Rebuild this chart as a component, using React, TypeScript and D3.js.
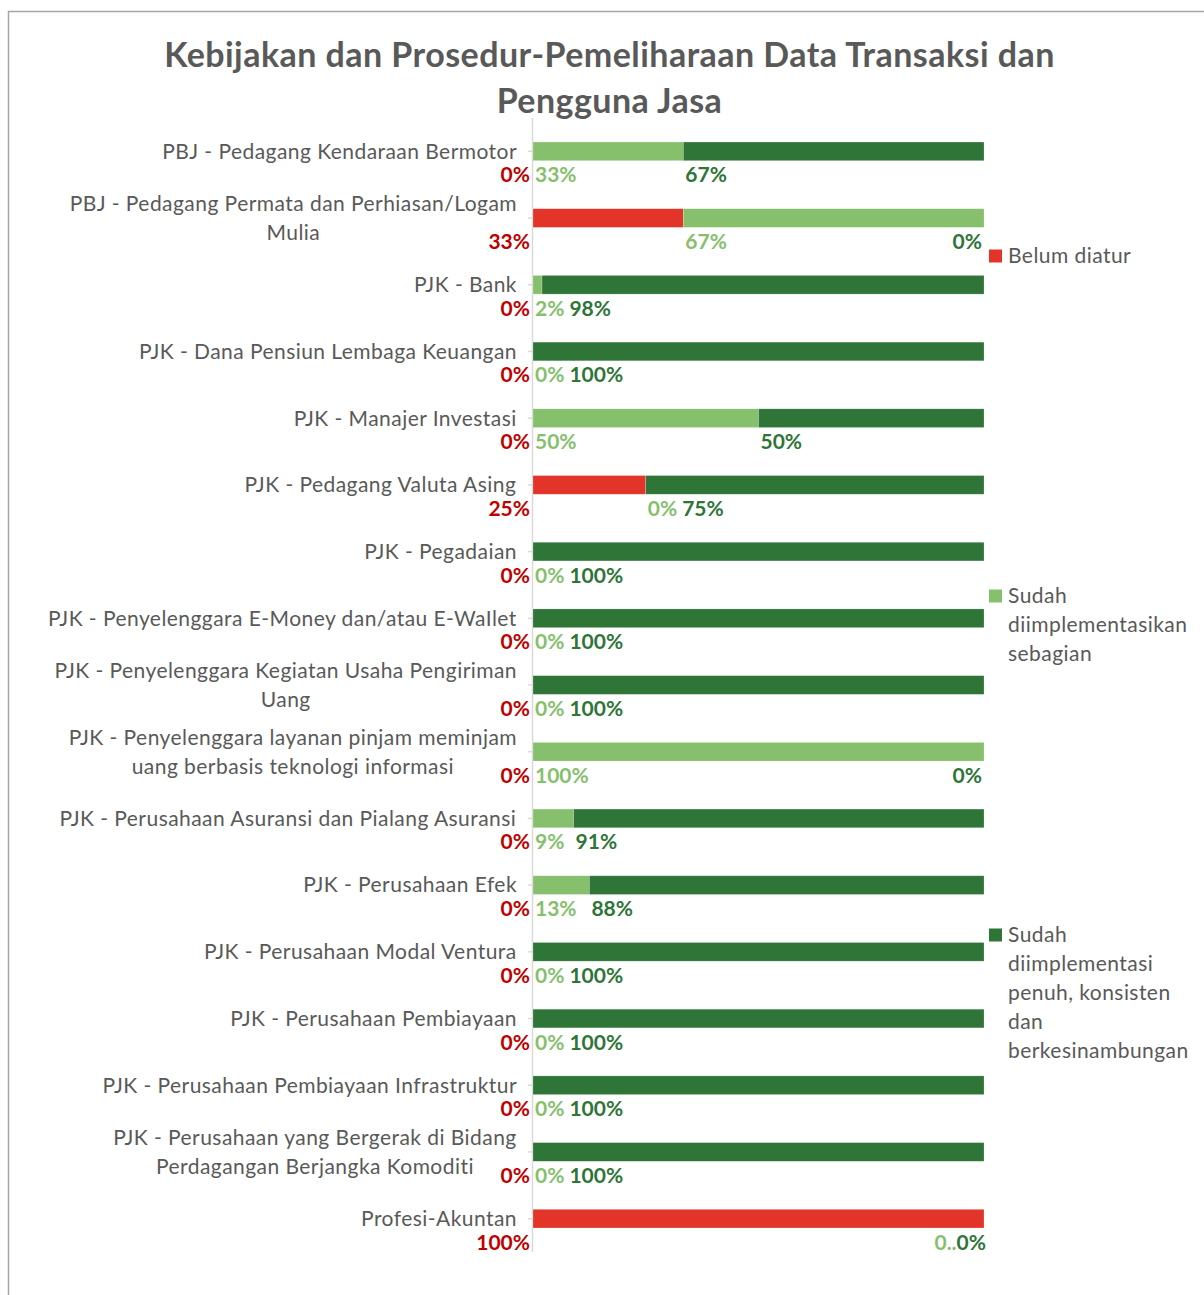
import React from "react";
import * as d3 from "d3";

const title = ["Kebijakan dan Prosedur-Pemeliharaan Data Transaksi dan", "Pengguna Jasa"];

const categories = [
  "PBJ - Pedagang Kendaraan Bermotor",
  "PBJ - Pedagang Permata dan Perhiasan/Logam Mulia",
  "PJK - Bank",
  "PJK - Dana Pensiun Lembaga Keuangan",
  "PJK - Manajer Investasi",
  "PJK - Pedagang Valuta Asing",
  "PJK - Pegadaian",
  "PJK - Penyelenggara E-Money dan/atau E-WaIlet",
  "PJK - Penyelenggara Kegiatan Usaha Pengiriman Uang",
  "PJK - Penyelenggara layanan pinjam meminjam uang berbasis teknologi informasi",
  "PJK - Perusahaan Asuransi dan Pialang Asuransi",
  "PJK - Perusahaan Efek",
  "PJK - Perusahaan Modal Ventura",
  "PJK - Perusahaan Pembiayaan",
  "PJK - Perusahaan Pembiayaan Infrastruktur",
  "PJK - Perusahaan yang Bergerak di Bidang Perdagangan Berjangka Komoditi",
  "Profesi-Akuntan",
];

const seriesNames = [
  "Belum diatur",
  "Sudah diimplementasikan sebagian",
  "Sudah diimplementasi penuh, konsisten dan berkesinambungan",
];

const belumDiatur = [0, 33.33, 0, 0, 0, 25, 0, 0, 0, 0, 0, 0, 0, 0, 0, 0, 100];
const sebagian = [33.33, 66.67, 2, 0, 50, 0, 0, 0, 0, 100, 9, 12.5, 0, 0, 0, 0, 0];
const penuh = [66.67, 0, 98, 100, 50, 75, 100, 100, 100, 0, 91, 87.5, 100, 100, 100, 100, 0];

const barColors = ["#E3342A", "#86C06D", "#2E7537"];
const labelColors = ["#C00000", "#86C06D", "#2E7537"];
const TEXT = "#595959";
const FONT = "Lato, 'Liberation Sans', sans-serif";

const W = 1204;
const H = 1295;
const catSize = 21;
const catLS = 0.45;
const labSize = 21;
const titleSize = 34;
const titleLS = 0.45;

let _ctx: CanvasRenderingContext2D | null = null;
function measure(t: string, font: string, ls = 0) {
  if (!_ctx) _ctx = document.createElement("canvas").getContext("2d");
  if (!_ctx) return t.length * 10;
  _ctx.font = font;
  return _ctx.measureText(t).width + ls * t.length;
}

function wrap(text: string, maxW: number, font: string, ls = 0) {
  const words = text.split(" ");
  const lines: string[] = [];
  let cur = "";
  for (const w of words) {
    const test = cur ? cur + " " + w : w;
    if (cur && measure(test, font, ls) > maxW) {
      lines.push(cur);
      cur = w;
    } else cur = test;
  }
  if (cur) lines.push(cur);
  return lines;
}

export default function App() {
  const x = d3.scaleLinear().domain([0, 100]).range([533, 984]);
  const y = d3
    .scaleBand<string>()
    .domain(categories)
    .range([118, 1252])
    .paddingInner(0.72)
    .paddingOuter(0.36);

  const rows = categories.map((c, i) => ({ cat: c, vals: [belumDiatur[i], sebagian[i], penuh[i]] }));
  const stack = d3
    .stack<any>()
    .keys(["0", "1", "2"])
    .value((d: any, k: string) => d.vals[+k]);
  const stacked = stack(rows);

  const catFont = `${catSize}px Lato`;
  const labFont = `bold ${labSize}px Lato`;
  const labelAxisX = 517;

  return (
    <svg width={W} height={H} style={{ position: "absolute", left: 0, top: 0 }} fontFamily={FONT}>
      <rect x={8.5} y={11.5} width={W + 20} height={H + 20} fill="#fff" stroke="#A6A6A6" strokeWidth={1.5} />
      {title.map((t, i) => (
        <text
          key={i}
          x={609.5}
          y={55 + i * 46}
          dy="0.35em"
          textAnchor="middle"
          fontWeight="bold"
          fontSize={titleSize}
          letterSpacing={titleLS}
          fill={TEXT}
        >
          {t}
        </text>
      ))}

      {/* axis */}
      <line x1={x(0) - 0.5} x2={x(0) - 0.5} y1={118} y2={1252} stroke="#D9D9D9" strokeWidth={1.5} />
      {categories.map((c) => {
        const cy = (y(c) as number) + y.bandwidth() / 2;
        return <line key={c} x1={528} x2={532} y1={cy} y2={cy} stroke="#D9D9D9" strokeWidth={1.5} />;
      })}

      {/* category labels */}
      {categories.map((c) => {
        const cy = (y(c) as number) + y.bandwidth() / 2;
        const lines = wrap(c, 480, catFont, catLS);
        const bw = Math.max(...lines.map((l) => measure(l, catFont, catLS)));
        const cx = labelAxisX - bw / 2;
        return (
          <g key={c}>
            {lines.map((l, j) => (
              <text
                key={j}
                x={cx}
                y={cy + (j - (lines.length - 1) / 2) * 29}
                dy="0.35em"
                textAnchor="middle"
                fontSize={catSize}
                letterSpacing={catLS}
                fill={TEXT}
              >
                {l}
              </text>
            ))}
          </g>
        );
      })}

      {/* bars */}
      {stacked.map((s, k) => (
        <g key={k} fill={barColors[k]}>
          {s.map((d: any, i: number) =>
            d[1] - d[0] > 0 ? (
              <rect
                key={i}
                x={x(d[0])}
                y={y(categories[i]) as number}
                width={x(d[1]) - x(d[0])}
                height={y.bandwidth()}
                stroke="#ffffff"
                strokeOpacity={0.35}
                strokeWidth={0.6}
              />
            ) : null
          )}
        </g>
      ))}

      {/* data labels */}
      {rows.map((r, i) => {
        const cy = (y(r.cat) as number) + y.bandwidth() / 2;
        const by = cy + 31;
        const [a, b, c] = r.vals;
        const ta = Math.round(a) + "%";
        const tb = Math.round(b) + "%";
        const tc = Math.round(c) + "%";
        const out: any[] = [];
        out.push(
          <text key="a" x={x(0) - 3} y={by} textAnchor="end" fontWeight="bold" fontSize={labSize} fill={labelColors[0]}>
            {ta}
          </text>
        );
        if (b === 0 && c === 0) {
          const endX = x(100) + 2;
          const wc = measure(tc, labFont);
          out.push(
            <text key="c" x={endX} y={by} textAnchor="end" fontWeight="bold" fontSize={labSize} fill={labelColors[2]}>
              {tc}
            </text>
          );
          out.push(
            <text key="b" x={endX - wc} y={by} textAnchor="end" fontWeight="bold" fontSize={labSize} fill={labelColors[1]}>
              {"0.."}
            </text>
          );
          return <g key={i}>{out}</g>;
        }
        const bx = x(a) + 2;
        const bEnd = bx + measure(tb, labFont);
        out.push(
          <text key="b" x={bx} y={by} fontWeight="bold" fontSize={labSize} fill={labelColors[1]}>
            {tb}
          </text>
        );
        if (c === 0) {
          out.push(
            <text key="c" x={x(100) - 2} y={by} textAnchor="end" fontWeight="bold" fontSize={labSize} fill={labelColors[2]}>
              {tc}
            </text>
          );
        } else {
          const cx = Math.max(x(a + b) + 2, bEnd + 5);
          out.push(
            <text key="c" x={cx} y={by} fontWeight="bold" fontSize={labSize} fill={labelColors[2]}>
              {tc}
            </text>
          );
        }
        return <g key={i}>{out}</g>;
      })}

      {/* legend */}
      {seriesNames.map((n, k) => {
        const tops = [256, 596, 935];
        const lines = wrap(n, 195, catFont, catLS);
        const ty = tops[k];
        return (
          <g key={n}>
            <rect x={989} y={ty - 6.5} width={13} height={13} fill={barColors[k]} />
            {lines.map((l, j) => (
              <text key={j} x={1008} y={ty + j * 29} dy="0.35em" fontSize={catSize} letterSpacing={catLS} fill={TEXT}>
                {l}
              </text>
            ))}
          </g>
        );
      })}
    </svg>
  );
}
